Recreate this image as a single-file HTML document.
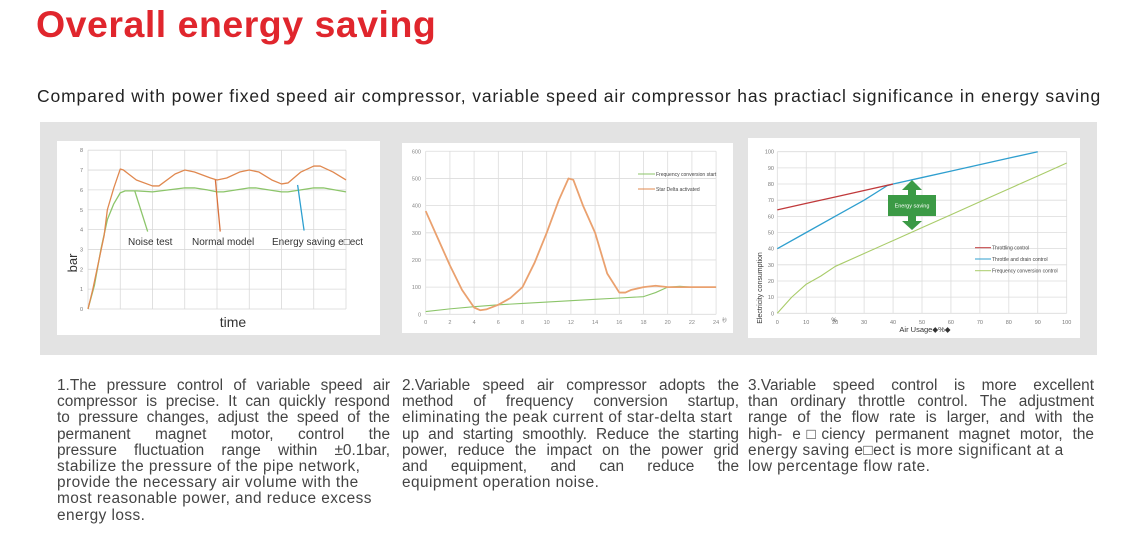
<!DOCTYPE html>
<html><head><meta charset="utf-8">
<style>
body{margin:0;width:1143px;height:550px;background:#fff;font-family:"Liberation Sans",Arial,sans-serif;overflow:hidden;position:relative}
#title{position:absolute;left:36px;top:6px;font-size:37.5px;line-height:1;font-weight:bold;color:#e0262d;margin:0;letter-spacing:0.5px}
#sub{position:absolute;left:37px;top:86px;font-size:17.5px;color:#222;white-space:nowrap;letter-spacing:0.86px}
#panel{position:absolute;left:40px;top:122px;width:1057px;height:233px;background:#e3e3e3}
.col{position:absolute;top:378px;font-size:15.4px;color:#444;line-height:16.2px;letter-spacing:0.45px}
.col div{white-space:nowrap}
.col .j{text-align:justify;text-align-last:justify;white-space:normal;letter-spacing:0}
svg{position:absolute;left:0;top:0}
</style></head><body>
<h1 id="title">Overall energy saving</h1>
<div id="sub">Compared with power fixed speed air compressor, variable speed air compressor has practiacl significance in energy saving</div>
<div id="panel"></div>
<svg id="svg" width="1143" height="550"></svg>
<div class="col" style="left:57px;width:333px">
<div class="j">1.The pressure control of variable speed air</div>
<div class="j">compressor is precise. It can quickly respond</div>
<div class="j">to pressure changes, adjust the speed of the</div>
<div class="j">permanent magnet motor, control the</div>
<div class="j">pressure fluctuation range within ±0.1bar,</div>
<div>stabilize the pressure of the pipe network,</div>
<div>provide the necessary air volume with the</div>
<div>most reasonable power, and reduce excess</div>
<div>energy loss.</div>
</div>
<div class="col" style="left:402px;width:337px">
<div class="j">2.Variable speed air compressor adopts the</div>
<div class="j">method of frequency conversion startup,</div>
<div>eliminating the peak current of star-delta start</div>
<div class="j">up and starting smoothly. Reduce the starting</div>
<div class="j">power, reduce the impact on the power grid</div>
<div class="j">and equipment, and can reduce the</div>
<div>equipment operation noise.</div>
</div>
<div class="col" style="left:748px;width:346px">
<div class="j">3.Variable speed control is more excellent</div>
<div class="j">than ordinary throttle control. The adjustment</div>
<div class="j">range of the flow rate is larger, and with the</div>
<div class="j">high- e□ciency permanent magnet motor, the</div>
<div>energy saving e□ect is more significant at a</div>
<div>low percentage flow rate.</div>
</div>
<script>
// Chart 1 data (x in grid units 0..8, y in bar)
const c1OrangeX=[0,0.15,0.5,0.6,0.8,1,1.1,1.5,2,2.2,2.7,3,3.3,3.8,4,4.3,4.7,5,5.3,5.7,6,6.2,6.6,7,7.2,7.6,8];
const c1OrangeY=[0,1,3.7,5,6.1,7.05,7,6.5,6.2,6.2,6.8,7,6.9,6.6,6.5,6.6,6.9,7,6.9,6.5,6.3,6.35,6.9,7.2,7.2,6.9,6.5];
const c1GreenX=[0,0.2,0.4,0.6,0.8,1,1.15,1.5,2,2.5,3,3.3,3.7,4,4.2,5,5.2,6,6.2,7,7.3,8];
const c1GreenY=[0,1.2,3,4.5,5.3,5.85,5.95,5.95,5.9,6,6.1,6.1,6,5.9,5.9,6.1,6.1,5.9,5.9,6.1,6.1,5.9];
const c1YTicks=[0,1,2,3,4,5,6,7,8];
const c1Labels=["Noise test","Normal model","Energy saving e□ect"];
// Chart 2 data
const c2X=[0,1,2,3,4,4.5,5,6,7,8,9,10,11,11.8,12.2,13,14,15,16,16.5,17,18,19,20,22,24];
const c2Star=[380,280,180,90,25,15,18,35,60,100,190,300,420,500,495,400,300,150,80,80,90,100,105,100,100,100];
const c2FX=[0,2,4,6,8,10,12,14,16,18,19,20,21,22,24];
const c2Freq=[10,20,28,35,40,45,50,55,60,65,80,100,103,100,100];
const c2XTicks=[0,2,4,6,8,10,12,14,16,18,20,22,24];
const c2YTicks=[0,100,200,300,400,500,600];
// Chart 3 data
const c3RX=[0,10,20,30,40];const c3R=[64,68,72,76,80];
const c3BX=[0,10,20,30,38,40,50,60,70,80,90];const c3B=[40,50,60,70,79,80,84,88,92,96,100];
const c3GX=[0,5,10,15,20,30,40,50,60,70,80,90,100];const c3G=[0,10,18,23,29,37,45,53,61,69,77,85,93];
const c3Ticks=[0,10,20,30,40,50,60,70,80,90,100];

const svg=document.getElementById('svg');const NS='http://www.w3.org/2000/svg';
function mk(tag,attrs,parent){const e=document.createElementNS(NS,tag);for(const k in attrs)e.setAttribute(k,attrs[k]);(parent||svg).appendChild(e);return e;}
function txt(x,y,s,size,fill,anchor,extra){const t=mk('text',Object.assign({x:x,y:y,'font-size':size,fill:fill,'text-anchor':anchor||'start','font-family':'Liberation Sans, Arial, sans-serif'},extra||{}));t.textContent=s;return t;}
function poly(xs,ys,sx,sy,color,w){return mk('polyline',{points:xs.map((v,i)=>sx(v)+','+sy(ys[i])).join(' '),fill:'none',stroke:color,'stroke-width':w||1.3,'stroke-linejoin':'round'});}

// ---- Chart 1
let r=mk('rect',{x:57,y:141,width:323,height:194,fill:'#fff'});

const s1x=v=>88+v*32.25, s1y=v=>309-v*19.85;
for(let i=0;i<=8;i++){const g=mk('line',{x1:s1x(i),x2:s1x(i),y1:s1y(0),y2:s1y(8),stroke:'#d9d9d9','stroke-width':0.8});}
c1YTicks.forEach(v=>{const g=mk('line',{x1:s1x(0),x2:s1x(8),y1:s1y(v),y2:s1y(v),stroke:'#d9d9d9','stroke-width':0.8});
 const t=txt(83,s1y(v)+2,String(v),5.5,'#777','end');});
let l=poly(c1GreenX,c1GreenY,s1x,s1y,'#8cc56a');
l=poly(c1OrangeX,c1OrangeY,s1x,s1y,'#e0884f');
l=mk('line',{x1:s1x(1.45),y1:s1y(5.95),x2:s1x(1.85),y2:s1y(3.9),stroke:'#8cc56a','stroke-width':1.3});
l=mk('line',{x1:s1x(3.95),y1:s1y(6.5),x2:s1x(4.1),y2:s1y(3.9),stroke:'#d9713c','stroke-width':1.3});
l=mk('line',{x1:s1x(6.5),y1:s1y(6.25),x2:s1x(6.7),y2:s1y(3.95),stroke:'#2d9fd0','stroke-width':1.3});
[[128,c1Labels[0]],[192,c1Labels[1]],[272,c1Labels[2]]].forEach(p=>{const t=txt(p[0],245,p[1],10,'#333');});
let t=txt(0,0,'bar',13,'#333','middle',{transform:'translate(77,263) rotate(-90)'});
t=txt(233,327,'time',14,'#333','middle');

// ---- Chart 2
r=mk('rect',{x:402,y:143,width:331,height:190,fill:'#fff'});
const s2x=v=>425.7+v*12.1, s2y=v=>314.3-v*0.2717;
c2XTicks.forEach(v=>{const g=mk('line',{x1:s2x(v),x2:s2x(v),y1:s2y(0),y2:s2y(600),stroke:'#dcdcdc','stroke-width':0.8});
 const tt=txt(s2x(v),324,String(v),5.5,'#888','middle');});
c2YTicks.forEach(v=>{const g=mk('line',{x1:s2x(0),x2:s2x(24),y1:s2y(v),y2:s2y(v),stroke:'#dcdcdc','stroke-width':0.8});
 const tt=txt(421,s2y(v)+2,String(v),5.5,'#888','end');});
t=txt(722,322,'秒',5,'#888','start');
l=poly(c2FX,c2Freq,s2x,s2y,'#8cc56a',1.1);
l=poly(c2X,c2Star,s2x,s2y,'#eaa16f',1.8);
l=mk('line',{x1:638,x2:655,y1:174,y2:174,stroke:'#8cc56a','stroke-width':1});
t=txt(656,176,'Frequency conversion start',5,'#444');
l=mk('line',{x1:638,x2:655,y1:189,y2:189,stroke:'#e0884f','stroke-width':1});
t=txt(656,191,'Star Delta activated',5,'#444');

// ---- Chart 3
r=mk('rect',{x:748,y:138,width:332,height:200,fill:'#fff'});
const s3x=v=>777.3+v*2.894, s3y=v=>313.3-v*1.616;
c3Ticks.forEach(v=>{const g=mk('line',{x1:s3x(v),x2:s3x(v),y1:s3y(0),y2:s3y(100),stroke:'#dcdcdc','stroke-width':0.8});
 const g2=mk('line',{x1:s3x(0),x2:s3x(100),y1:s3y(v),y2:s3y(v),stroke:'#dcdcdc','stroke-width':0.8});
 const a=txt(s3x(v),324,String(v),5.5,'#777','middle');
 const b=txt(774,s3y(v)+2,String(v),5.5,'#777','end');});
l=poly(c3GX,c3G,s3x,s3y,'#a9cc6a',1.1);
l=poly(c3BX,c3B,s3x,s3y,'#2f9fcf',1.3);
l=poly(c3RX,c3R,s3x,s3y,'#c0393b',1.3);
const arrow=mk('path',{d:'M912,180 L922,190 L916,190 L916,195 L936,195 L936,216 L916,216 L916,221 L922,221 L912,230 L902,221 L908,221 L908,216 L888,216 L888,195 L908,195 L908,190 L902,190 Z',fill:'#3b9a45'});

t=txt(912,207.5,'Energy saving',5.5,'#fff','middle');
[['#c0393b','Throttling control',247.7],['#2f9fcf','Throttle and drain control',259],['#a9cc6a','Frequency conversion control',270.7]].forEach(e=>{
 const sw=mk('line',{x1:975,x2:991,y1:e[2],y2:e[2],stroke:e[0],'stroke-width':1});
 const lt=txt(992,e[2]+1.8,e[1],5,'#444');});
t=txt(0,0,'Electricity consumption',7,'#333','middle',{transform:'translate(762,288) rotate(-90)'});
t=txt(925,332,'Air Usage◆%◆',7.5,'#333','middle');
t=txt(834,322,'%',6,'#555','middle');
</script>
</body></html>
